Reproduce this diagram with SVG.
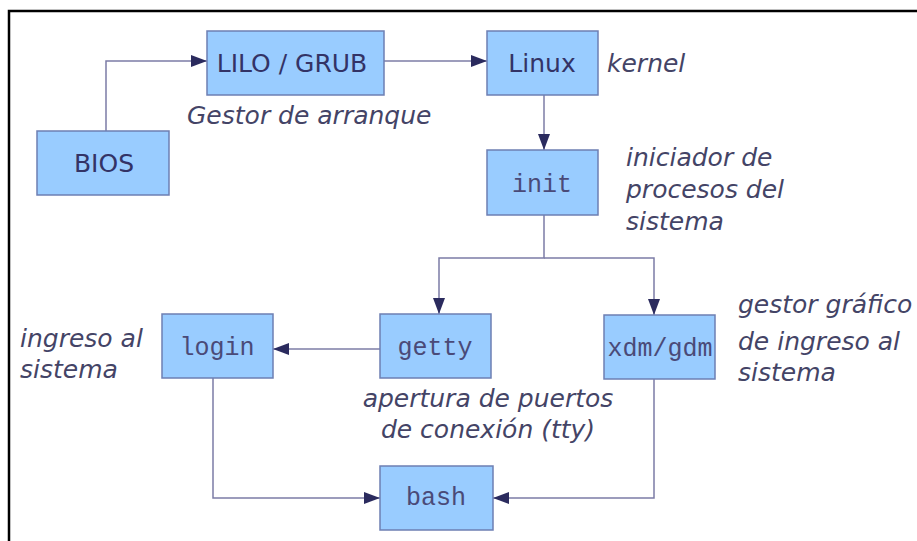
<svg xmlns="http://www.w3.org/2000/svg" width="917" height="541" viewBox="0 0 917 541">
<style>
.box{fill:#99ccff;stroke:#6d7fb3;stroke-width:1.5}
.lbl{font-family:"DejaVu Sans",Verdana,sans-serif;font-size:25px;fill:#333366;text-anchor:middle}
.mono{font-family:"Liberation Mono","Courier New",monospace;font-size:25px;fill:#4a4a78;text-anchor:middle}
.note{font-family:"DejaVu Sans",Verdana,sans-serif;font-style:italic;font-size:25px;fill:#444466}
.con{fill:none;stroke:#7c7ca6;stroke-width:1.5}
</style>
<defs>
<marker id="arr" markerUnits="userSpaceOnUse" markerWidth="16" markerHeight="12" refX="16" refY="6" orient="auto">
<path d="M0,0 L16,6 L0,12 z" fill="#2b2b5e"/>
</marker>
</defs>
<rect width="917" height="541" fill="#ffffff"/>
<path d="M9,541 V11 H917" fill="none" stroke="#000" stroke-width="2.5"/>
<g id="connectors">
<path class="con" d="M106,131 V61 H207" marker-end="url(#arr)"/>
<path class="con" d="M384,61 H487" marker-end="url(#arr)"/>
<path class="con" d="M544,95 V150" marker-end="url(#arr)"/>
<path class="con" d="M544,215 V258 H439 V314" marker-end="url(#arr)"/>
<path class="con" d="M544,258 H654 V315" marker-end="url(#arr)"/>
<path class="con" d="M380,349 H273" marker-end="url(#arr)"/>
<path class="con" d="M213,378 V498 H380" marker-end="url(#arr)"/>
<path class="con" d="M654,379 V498 H493" marker-end="url(#arr)"/>
</g>
<g id="bios"><rect class="box" x="37" y="131" width="132" height="64"/><text class="lbl" x="104" y="172">BIOS</text></g>
<g id="lilo"><rect class="box" x="207" y="31" width="177" height="64"/><text class="lbl" x="292" y="72">LILO / GRUB</text></g>
<g id="linux"><rect class="box" x="487" y="31" width="111" height="64"/><text class="lbl" x="542" y="72">Linux</text></g>
<g id="init"><rect class="box" x="487" y="150" width="111" height="65"/><text class="mono" x="542" y="192">init</text></g>
<g id="login"><rect class="box" x="162" y="314" width="111" height="64"/><text class="mono" x="217" y="355">login</text></g>
<g id="getty"><rect class="box" x="380" y="314" width="111" height="64"/><text class="mono" x="435" y="355">getty</text></g>
<g id="xdm"><rect class="box" x="604" y="315" width="111" height="64"/><text class="mono" x="660" y="356">xdm/gdm</text></g>
<g id="bash"><rect class="box" x="380" y="466" width="113" height="64"/><text class="mono" x="436" y="505">bash</text></g>
<g id="notes">
<text class="note" x="187" y="124">Gestor de arranque</text>
<text class="note" x="607" y="72">kernel</text>
<text class="note" x="626" y="166">iniciador de</text>
<text class="note" x="626" y="198">procesos del</text>
<text class="note" x="626" y="230">sistema</text>
<text class="note" x="20" y="347">ingreso al</text>
<text class="note" x="20" y="378">sistema</text>
<text class="note" x="488" y="407" text-anchor="middle">apertura de puertos</text>
<text class="note" x="488" y="438" text-anchor="middle">de conexión (tty)</text>
<text class="note" x="738" y="313">gestor gráfico</text>
<text class="note" x="738" y="350">de ingreso al</text>
<text class="note" x="738" y="381">sistema</text>
</g>
</svg>
